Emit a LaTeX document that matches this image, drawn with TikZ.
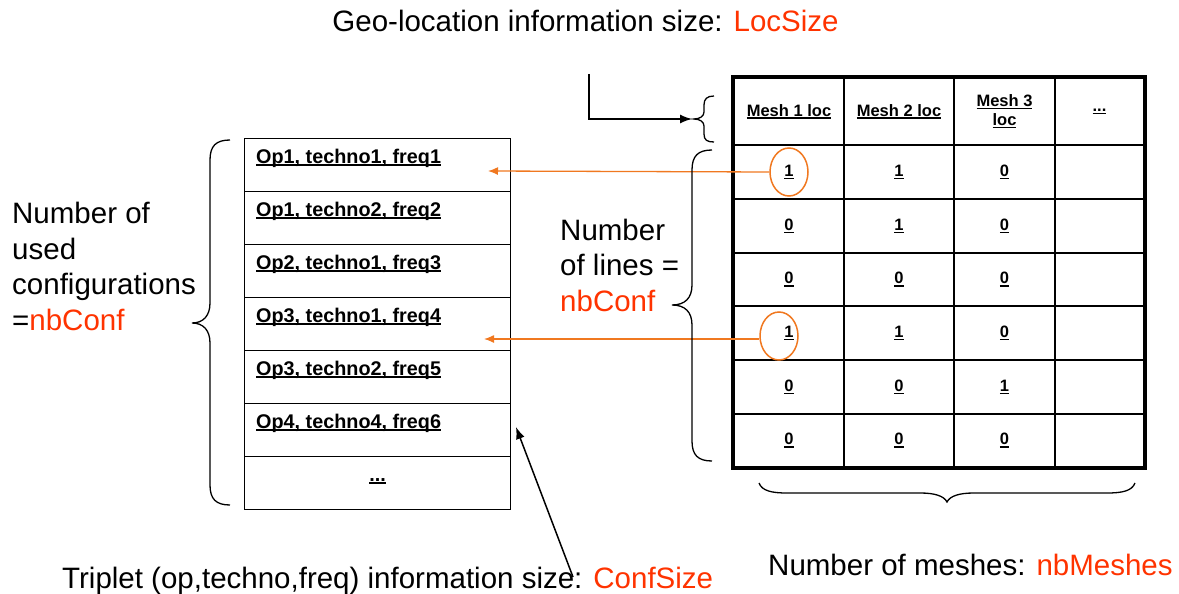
\documentclass[tikz,border=0pt]{standalone}
\usepackage{fontspec}
\setmainfont{Liberation Sans}
\usetikzlibrary{arrows.meta,shapes.geometric}
\definecolor{accent}{HTML}{FF3300}
\definecolor{markc}{HTML}{F07820}
\newcommand\ulbox[1]{\setbox0\hbox{#1}\rlap{\rule[-2.6pt]{\wd0}{1.3pt}}\box0}
\begin{document}
\begin{tikzpicture}[x=1pt,y=-1pt,
  big/.style={font=\fontsize{29.5}{35.5}\selectfont, inner sep=0pt},
  lcell/.style={draw, line width=1.3pt, minimum width=266pt, minimum height=53pt, inner sep=0pt, anchor=north west},
  ltext/.style={font=\fontsize{19.8}{23}\selectfont\bfseries, inner sep=0pt, anchor=base west},
  rcell/.style={draw, line width=2pt, inner sep=0pt, anchor=north west, align=center, font=\fontsize{16.5}{19}\selectfont\bfseries},
  markring/.style={draw=markc, line width=1.5pt, ellipse, minimum width=38pt, minimum height=48pt, inner sep=0pt},
  oarrow/.style={draw=markc, line width=1.3pt, -{Latex[length=10pt,width=8pt]}},
  barrow/.style={draw=black, line width=1.5pt, -{Latex[length=12pt,width=9pt]}},
  bracel/.style={draw=black, line width=1.3pt}
]
\useasboundingbox (0,0) rectangle (1179,594);

% left table
\node[lcell] (L1) at (244,138) {};
\node[lcell] (L2) at (244,191) {};
\node[lcell] (L3) at (244,244) {};
\node[lcell] (L4) at (244,297) {};
\node[lcell] (L5) at (244,350) {};
\node[lcell] (L6) at (244,403) {};
\node[lcell] (L7) at (244,456) {};
\node[ltext] (T1) at ([shift={(12,25)}]L1.north west) {\ulbox{Op1, techno1, freq1}};
\node[ltext] (T2) at ([shift={(12,25)}]L2.north west) {\ulbox{Op1, techno2, freq2}};
\node[ltext] (T3) at ([shift={(12,25)}]L3.north west) {\ulbox{Op2, techno1, freq3}};
\node[ltext] (T4) at ([shift={(12,25)}]L4.north west) {\ulbox{Op3, techno1, freq4}};
\node[ltext] (T5) at ([shift={(12,25)}]L5.north west) {\ulbox{Op3, techno2, freq5}};
\node[ltext] (T6) at ([shift={(12,25)}]L6.north west) {\ulbox{Op4, techno4, freq6}};
\node[ltext, anchor=base] (T7) at ([shift={(0,25)}]L7.north) {\ulbox{...}};

% right table
\node[rcell, minimum width=110pt, minimum height=67pt] (R01) at (733,77) {\ulbox{Mesh 1 loc}};
\node[rcell, minimum width=110pt, minimum height=67pt] (R02) at (843,77) {\ulbox{Mesh 2 loc}};
\node[rcell, minimum width=101pt, minimum height=67pt] (R03) at (953,77) {\ulbox{Mesh 3}\\\ulbox{loc}};
\node[rcell, minimum width=89pt, minimum height=67pt] (R04) at (1054,77) {\ulbox{...}};
\foreach \r/\y/\h/\a/\b/\c in {1/144/54/1/1/0, 2/198/54/0/1/0, 3/252/53/0/0/0, 4/305/54/1/1/0, 5/359/54/0/0/1, 6/413/53/0/0/0}{
  \node[rcell, minimum width=110pt, minimum height=\h pt] (R\r1) at (733,\y) {\ulbox{\a}};
  \node[rcell, minimum width=110pt, minimum height=\h pt] (R\r2) at (843,\y) {\ulbox{\b}};
  \node[rcell, minimum width=101pt, minimum height=\h pt] (R\r3) at (953,\y) {\ulbox{\c}};
  \node[rcell, minimum width=89pt, minimum height=\h pt] (R\r4) at (1054,\y) {};
}
\draw[line width=4pt] (R01.north west) rectangle (R64.south east);

% marked cells and arrows
\node[markring] (e1) at (R11.center) {};
\node[markring] (e4) at ([shift={(-10,3)}]R41.center) {};
\coordinate (t1) at (488,171);
\coordinate (t4) at (484,339);
\draw[oarrow] (e1.west) -- (t1);
\draw[oarrow] (e4.west |- t4) -- (t4);

% braces
\draw[bracel] (230,140) .. controls (216,140) and (210,146) .. (210,160) -- (210,303)
  .. controls (210,316) and (203,323) .. (192,323) .. controls (203,323) and (210,330) .. (210,343)
  -- (210,485) .. controls (210,499) and (216,505) .. (230,505);
\draw[bracel] (712,150) .. controls (698,150) and (692,156) .. (692,170) -- (692,285)
  .. controls (692,298) and (685,305) .. (672,305) .. controls (685,305) and (692,312) .. (692,325)
  -- (692,441) .. controls (692,455) and (698,461) .. (712,461);
\draw[bracel] (714,96) .. controls (707,96) and (704,99) .. (704,105) -- (704,112)
  .. controls (704,116) and (700,119) .. (694,119) .. controls (700,119) and (704,122) .. (704,126)
  -- (704,134) .. controls (704,140) and (707,142) .. (714,142);
\draw[bracel] (759,483) .. controls (762,491) and (772,493) .. (787,493) -- (920,493)
  .. controls (935,493) and (944,496) .. (947,502) .. controls (950,496) and (959,493) .. (974,493)
  -- (1107,493) .. controls (1122,493) and (1132,491) .. (1135,483);

% black arrows
\coordinate (es) at (589,74);
\coordinate (et) at (692,119);
\draw[barrow] (es) |- (et);
\coordinate (ts) at (573,577);
\coordinate (tt) at (516,427);
\draw[barrow] (ts) -- (tt);

% labels
\node[big, anchor=base] (geo) at (585.5,32) {Geo-location information size: \textcolor{accent}{LocSize}};
\node[big, align=left, anchor=west] (nused) at (12,266.5) {Number of\\used\\configurations\\=\textcolor{accent}{nbConf}};
\node[big, align=left, anchor=west] (nlines) at (560,265) {Number\\of lines =\\\textcolor{accent}{nbConf}};
\node[big, anchor=base west] (trip) at (62,588) {Triplet (op,techno,freq) information size: \textcolor{accent}{ConfSize}};
\node[big, anchor=base west] (mesh) at (768,575) {Number of meshes: \textcolor{accent}{nbMeshes}};
\end{tikzpicture}
\end{document}
